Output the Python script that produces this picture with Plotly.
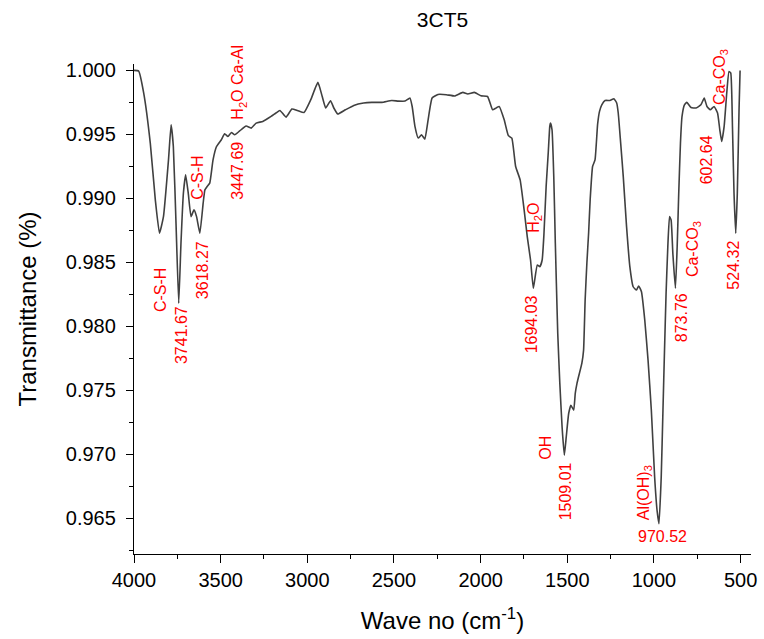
import plotly.graph_objects as go

wavenumber = [
    4000, 3973, 3944, 3906, 3877, 3853, 3830, 3801, 3786, 3773, 3757, 3742, 3729, 3715,
    3702, 3687, 3671, 3654, 3639, 3620, 3601, 3591, 3578, 3563, 3544, 3524, 3496, 3477,
    3458, 3438, 3419, 3390, 3353, 3324, 3295, 3257, 3209, 3181, 3158, 3123, 3089, 3057,
    3019, 2980, 2939, 2914, 2894, 2866, 2847, 2824, 2780, 2732, 2675, 2628, 2570, 2513,
    2475, 2436, 2408, 2395, 2379, 2360, 2341, 2322, 2303, 2280, 2246, 2198, 2150, 2103,
    2074, 2036, 1998, 1960, 1931, 1912, 1893, 1864, 1840, 1820, 1798, 1772, 1749, 1731,
    1712, 1696, 1673, 1658, 1645, 1635, 1622, 1610, 1601, 1597, 1588, 1578, 1569, 1563,
    1555, 1543, 1530, 1517, 1506, 1492, 1479, 1463, 1454, 1444, 1435, 1416, 1406, 1397,
    1387, 1377, 1368, 1354, 1340, 1325, 1314, 1301, 1282, 1254, 1231, 1215, 1206, 1192,
    1177, 1158, 1139, 1120, 1101, 1088, 1072, 1053, 1034, 1015, 996, 982, 971, 958,
    948, 939, 930, 920, 910, 901, 891, 876, 866, 857, 847, 838, 824, 810,
    786, 757, 729, 710, 694, 675, 653, 633, 620, 609, 595, 580, 567, 557,
    547, 538, 528, 519, 509, 503,
]
transmittance = [
    1.00000, 0.99995, 0.99823, 0.99432, 0.98988, 0.98727, 0.98857, 0.99301, 0.99575, 0.99405, 0.98779, 0.98179, 0.98649, 0.99040,
    0.99184, 0.99040, 0.98857, 0.98910, 0.98857, 0.98727, 0.98962, 0.99066, 0.99092, 0.99119, 0.99301, 0.99405, 0.99458, 0.99505,
    0.99483, 0.99515, 0.99497, 0.99527, 0.99565, 0.99549, 0.99588, 0.99601, 0.99640, 0.99667, 0.99687, 0.99635, 0.99698, 0.99687,
    0.99671, 0.99771, 0.99906, 0.99796, 0.99706, 0.99763, 0.99706, 0.99659, 0.99692, 0.99726, 0.99745, 0.99750, 0.99750, 0.99765,
    0.99760, 0.99760, 0.99784, 0.99718, 0.99562, 0.99471, 0.99497, 0.99463, 0.99614, 0.99784, 0.99812, 0.99810, 0.99800, 0.99828,
    0.99815, 0.99828, 0.99802, 0.99796, 0.99692, 0.99705, 0.99718, 0.99614, 0.99490, 0.99470, 0.99249, 0.99144, 0.98910, 0.98701,
    0.98518, 0.98297, 0.98479, 0.98466, 0.98518, 0.98712, 0.99092, 0.99353, 0.99562, 0.99588, 0.99536, 0.99170, 0.98649, 0.98336,
    0.97944, 0.97553, 0.97213, 0.96992, 0.97135, 0.97318, 0.97383, 0.97344, 0.97475, 0.97553, 0.97605, 0.97710, 0.97814, 0.98205,
    0.98492, 0.98727, 0.98988, 0.99249, 0.99300, 0.99580, 0.99680, 0.99731, 0.99765, 0.99765, 0.99778, 0.99745, 0.99667, 0.99432,
    0.99170, 0.98779, 0.98466, 0.98309, 0.98283, 0.98315, 0.98270, 0.98049, 0.97735, 0.97344, 0.96822, 0.96561, 0.96457, 0.96822,
    0.97344, 0.97814, 0.98258, 0.98622, 0.98857, 0.98831, 0.98571, 0.98297, 0.98622, 0.99040, 0.99432, 0.99640, 0.99731, 0.99750,
    0.99710, 0.99706, 0.99731, 0.99784, 0.99718, 0.99692, 0.99718, 0.99667, 0.99536, 0.99444, 0.99562, 0.99823, 0.99992, 0.99980,
    0.99562, 0.99040, 0.98727, 0.99040, 0.99692, 1.00000,
]

# peak labels: text, x (cm-1), y (transmittance), rotation
label_text = [
    "C-S-H", "3741.67", "C-S-H", "3618.27", "3447.69", "H<sub>2</sub>O Ca-Al",
    "H<sub>2</sub>O", "1694.03", "OH", "1509.01", "Al(OH)<sub>3</sub>", "970.52",
    "873.76", "Ca-CO<sub>3</sub>", "602.64", "Ca-CO<sub>3</sub>", "524.32",
]
label_x = [3847, 3729, 3634, 3601, 3401, 3397, 1690, 1708, 1622, 1513, 1055, 952,
           843, 774, 697, 620, 540]
label_y = [0.98279, 0.97931, 0.99164, 0.98440, 0.99215, 0.99908, 0.98851, 0.98017,
           0.97051, 0.96710, 0.96698, 0.96358, 0.98064, 0.98604, 0.99301, 0.99947, 0.98479]
label_angle = [-90, -90, -90, -90, -90, -90, -90, -90, -90, -90, -90, 0,
               -90, -90, -90, -90, -90]

FONT = "Arial, Liberation Sans, sans-serif"

fig = go.Figure()
fig.add_trace(go.Scatter(
    x=wavenumber, y=transmittance, mode="lines",
    line=dict(color="#404040", width=1.6, shape="spline", smoothing=0.4),
    showlegend=False,
))

for t, x, y, a in zip(label_text, label_x, label_y, label_angle):
    fig.add_annotation(x=x, y=y, text=t, textangle=a, showarrow=False,
                       xanchor="center", yanchor="middle",
                       font=dict(family=FONT, size=16, color="#ff0000"))

fig.update_layout(
    width=764, height=639,
    margin=dict(l=134, r=7, t=64, b=85),
    paper_bgcolor="white", plot_bgcolor="white",
    font=dict(family=FONT, color="black"),
    title=dict(text="3CT5", x=0.5, xref="paper", xanchor="center",
               y=0.970, yref="container", yanchor="middle",
               font=dict(family=FONT, size=21, color="black")),
)
fig.update_xaxes(
    range=[4000, 440], showgrid=False, zeroline=False,
    showline=True, linecolor="black", linewidth=1.3,
    ticks="outside", ticklen=8, tickwidth=1.3, tickcolor="black",
    tickmode="array", tickvals=[4000, 3500, 3000, 2500, 2000, 1500, 1000, 500],
    tickfont=dict(family=FONT, size=20, color="black"),
    minor=dict(ticks="outside", ticklen=4, tickwidth=1.3, tickcolor="black",
               tickmode="array", tickvals=[3750, 3250, 2750, 2250, 1750, 1250, 750]),
    title=dict(text="Wave no (cm<sup>-1</sup>)", standoff=22,
               font=dict(family=FONT, size=24, color="black")),
)
fig.update_yaxes(
    range=[0.9622, 1.0005], showgrid=False, zeroline=False,
    showline=True, linecolor="black", linewidth=1.3,
    ticks="outside", ticklen=7, tickwidth=1.3, tickcolor="black",
    tickmode="array", tickvals=[0.965, 0.970, 0.975, 0.980, 0.985, 0.990, 0.995, 1.000],
    ticktext=["0.965", "0.970", "0.975", "0.980", "0.985", "0.990", "0.995", "1.000"],
    ticklabelstandoff=6,
    tickfont=dict(family=FONT, size=20, color="black"),
    minor=dict(ticks="outside", ticklen=4, tickwidth=1.3, tickcolor="black",
               tickmode="array",
               tickvals=[0.9625, 0.9675, 0.9725, 0.9775, 0.9825, 0.9875, 0.9925, 0.9975]),
    title=dict(text="Transmittance (%)", standoff=22,
               font=dict(family=FONT, size=24, color="black")),
)

fig.write_html("out.html")
